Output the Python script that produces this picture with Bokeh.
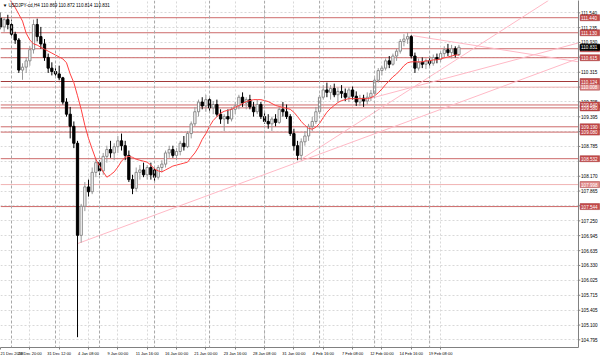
from bokeh.plotting import figure
from bokeh.models import Range1d, FixedTicker, Span, Label, ColumnDataSource
from bokeh.embed import file_html
from bokeh.resources import INLINE
from bokeh.core.properties import value

# ---------------- data (USDJPY-cd, 8-hour bars) ----------------
opens = [111.43,111.25,111.40,111.30,111.10,110.98,110.36,110.42,110.55,110.78,
         111.30,111.05,110.90,110.62,110.40,110.33,110.28,110.20,109.70,109.45,
         109.20,108.85,106.95,107.55,107.95,107.85,108.25,108.45,108.28,108.58,
         108.72,108.65,108.78,108.90,108.80,108.60,108.10,107.92,108.25,108.30,
         108.20,108.35,108.30,108.15,108.35,108.42,108.65,108.72,108.60,108.68,
         108.85,108.78,109.05,109.25,109.50,109.70,109.62,109.75,109.58,109.65,
         109.45,109.35,109.40,109.35,109.55,109.62,109.80,109.68,109.75,109.60,
         109.50,109.65,109.40,109.30,109.25,109.35,109.28,109.55,109.50,109.40,
         109.05,108.80,108.60,108.88,109.00,109.20,109.30,109.50,109.80,109.95,
         109.90,109.98,109.85,109.92,109.88,109.80,109.95,109.82,109.70,109.78,
         109.72,109.80,109.88,110.15,110.35,110.40,110.55,110.48,110.65,110.75,
         110.95,111.00,111.05,110.65,110.40,110.52,110.48,110.55,110.50,110.62,
         110.58,110.70,110.78,110.72,110.80,110.68]
highs = [111.55,111.45,111.50,111.40,111.15,111.02,110.50,110.62,110.85,111.40,
         111.42,111.25,111.00,110.70,110.52,110.45,110.45,110.22,109.78,109.60,
         109.30,108.90,107.60,108.05,108.10,108.35,108.55,108.50,108.65,108.80,
         108.90,108.85,109.00,109.05,108.90,108.70,108.20,108.35,108.40,108.45,
         108.40,108.45,108.35,108.40,108.50,108.70,108.80,108.80,108.75,108.90,
         109.00,109.10,109.30,109.60,109.75,109.80,109.85,109.80,109.72,109.75,
         109.55,109.45,109.55,109.60,109.70,109.85,109.90,109.80,109.85,109.70,
         109.75,109.70,109.50,109.45,109.40,109.45,109.60,109.70,109.65,109.45,
         109.15,108.90,108.95,109.10,109.25,109.40,109.60,109.85,110.05,110.10,
         110.05,110.08,110.00,110.05,109.98,110.00,110.02,109.92,109.85,109.85,
         109.90,109.95,110.20,110.40,110.45,110.60,110.65,110.70,110.80,111.00,
         111.10,111.13,111.08,110.72,110.60,110.62,110.60,110.65,110.68,110.70,
         110.75,110.85,110.90,110.88,110.85,110.88]
lows = [111.20,111.15,111.20,111.05,110.90,110.30,110.16,110.30,110.45,110.70,
        110.95,110.80,110.55,110.30,110.25,110.20,110.15,109.65,109.40,108.95,
        108.75,104.85,106.80,107.45,107.75,107.80,108.15,108.20,108.20,108.45,
        108.55,108.50,108.65,108.70,108.50,108.05,107.80,107.85,108.10,108.15,
        108.10,108.10,108.05,108.10,108.25,108.35,108.55,108.55,108.50,108.60,
        108.70,108.75,108.95,109.20,109.40,109.55,109.50,109.50,109.45,109.40,
        109.25,109.10,109.25,109.30,109.45,109.55,109.60,109.55,109.55,109.40,
        109.45,109.35,109.25,109.15,109.10,109.20,109.25,109.40,109.35,109.00,
        108.70,108.50,108.50,108.80,108.90,109.10,109.25,109.45,109.75,109.80,
        109.75,109.80,109.70,109.78,109.72,109.70,109.75,109.62,109.62,109.60,
        109.65,109.72,109.85,110.10,110.25,110.35,110.40,110.45,110.55,110.70,
        110.85,110.90,110.60,110.30,110.35,110.40,110.38,110.45,110.45,110.50,
        110.52,110.62,110.65,110.60,110.62,110.65]
closes = [111.25,111.40,111.30,111.10,110.98,110.36,110.42,110.55,110.78,111.30,
          111.05,110.90,110.62,110.40,110.33,110.28,110.20,109.70,109.45,109.20,
          108.85,106.95,107.55,107.95,107.85,108.25,108.45,108.28,108.58,108.72,
          108.65,108.78,108.90,108.80,108.60,108.10,107.92,108.25,108.30,108.20,
          108.35,108.20,108.15,108.35,108.42,108.65,108.72,108.60,108.68,108.85,
          108.78,109.05,109.25,109.50,109.70,109.62,109.75,109.58,109.65,109.45,
          109.35,109.40,109.35,109.55,109.62,109.80,109.68,109.75,109.60,109.50,
          109.65,109.40,109.30,109.25,109.35,109.28,109.55,109.50,109.40,109.05,
          108.80,108.60,108.88,109.00,109.20,109.30,109.50,109.80,109.95,109.90,
          109.98,109.85,109.92,109.88,109.80,109.95,109.82,109.70,109.78,109.72,
          109.80,109.88,110.15,110.35,110.40,110.55,110.48,110.65,110.75,110.95,
          111.00,111.05,110.65,110.40,110.52,110.48,110.55,110.50,110.62,110.58,
          110.70,110.78,110.72,110.80,110.68,110.83]
# moving average as drawn on the chart
ma_line = [112.10,112.00,111.86,111.76,111.65,111.51,111.37,111.12,110.98,110.90,
           110.875,110.83,110.79,110.75,110.71,110.67,110.63,110.59,110.51,110.28,
           110.10,109.83,109.55,109.22,108.95,108.73,108.52,108.38,108.26,108.15,
           108.20,108.26,108.36,108.48,108.56,108.58,108.56,108.52,108.50,108.48,
           108.46,108.40,108.32,108.28,108.26,108.30,108.34,108.38,108.40,108.42,
           108.44,108.46,108.56,108.65,108.77,108.93,109.05,109.20,109.32,109.40,
           109.47,109.51,109.53,109.55,109.59,109.63,109.67,109.71,109.73,109.75,
           109.75,109.75,109.73,109.71,109.67,109.63,109.61,109.59,109.57,109.55,
           109.49,109.40,109.30,109.22,109.16,109.14,109.18,109.26,109.38,109.49,
           109.57,109.63,109.69,109.73,109.75,109.77,109.77,109.77,109.77,109.77,
           109.77,109.79,109.83,109.89,109.97,110.06,110.14,110.22,110.28,110.36,
           110.45,110.51,110.53,110.53,110.53,110.53,110.55,110.55,110.57,110.57,
           110.59,110.61,110.63,110.65,110.67,110.67]

# horizontal levels (price tags on the right)
levels = [111.440, 111.130, 110.800, 110.615, 110.124, 110.008,
          109.640, 109.580, 109.190, 109.080, 108.532, 107.998, 107.544]
level_kind = ["n", "n", "n", "n", "dark", "light",
              "n", "n", "n", "n", "n", "light", "n"]
current_price = 110.831

# trend lines: (bar, price) -> (bar, price)
trend_x0 = [21.0, 82.0, 99.6, 112.4]
trend_y0 = [106.78, 108.52, 109.75, 111.07]
trend_x1 = [157.6, 149.4, 157.6, 157.6]
trend_y1 = [110.60, 111.795, 110.92, 110.53]

# first bar of each trading week
week_starts = [3, 15, 27, 42, 57, 72, 87, 102, 117]

x_tick_labels = ["21 Dec 2018", "26 Dec 20:00", "31 Dec 12:00", "4 Jan 08:00",
                 "9 Jan 00:00", "11 Jan 16:00", "16 Jan 00:00", "21 Jan 00:00",
                 "23 Jan 16:00", "28 Jan 08:00", "31 Jan 00:00", "4 Feb 16:00",
                 "7 Feb 08:00", "12 Feb 00:00", "14 Feb 16:00", "19 Feb 08:00"]
y_tick_labels = ["104.795", "105.100", "105.405", "105.715", "106.025", "106.330",
                 "106.635", "106.945", "107.250", "107.560", "107.865", "108.170",
                 "108.480", "108.785", "109.090", "109.395", "109.705", "110.010",
                 "110.315", "110.625", "110.930", "111.235", "111.540"]
y_hidden = ["107.560", "108.480", "109.090", "110.010", "110.625"]

header = "USDJPY-cd,H4  110.869 110.872 110.814 110.831"

# ---------------- figure ----------------
FONT = "Liberation Sans"
n = len(closes)
xs = list(range(n))
X_END = 157.6      # right edge of the price pane (bar units)
X_MAX = 163.6      # right edge of the price scale strip

p = figure(width=600, height=358, x_range=Range1d(0, X_MAX), y_range=Range1d(104.637, 111.795),
           toolbar_location=None, output_backend="svg", y_axis_location=None,
           min_border_left=0, min_border_top=0, min_border_right=0, min_border_bottom=0)
p.background_fill_color = "white"
p.border_fill_color = "white"
p.outline_line_color = None

# time axis
xt = [8 * k for k in range(len(x_tick_labels))]
p.xaxis.ticker = FixedTicker(ticks=xt)
p.xaxis.major_label_overrides = {t: s for t, s in zip(xt, x_tick_labels)}
p.xaxis.major_label_text_align = "left"
p.xaxis.major_label_text_font_size = "4px"
p.xaxis.major_label_text_font = FONT
p.xaxis.major_label_text_color = "#000000"
p.xaxis.axis_line_color = "#808080"
p.xaxis.major_tick_line_color = "#808080"
p.xaxis.major_tick_in = 0
p.xaxis.major_tick_out = 2
p.xaxis.minor_tick_line_color = None
p.xaxis.major_label_standoff = 1
p.xaxis.bounds = (0, X_END)

# grids
yt = [float(s) for s in y_tick_labels]
p.xgrid.ticker = FixedTicker(ticks=xt)
p.ygrid.ticker = FixedTicker(ticks=yt)
for g in (p.xgrid[0], p.ygrid[0]):
    g.grid_line_color = "#d9d9d9"
    g.grid_line_dash = "2 2"

# week separators
for w in week_starts:
    p.add_layout(Span(location=w, dimension="height", line_color="#a8a8a8",
                      line_dash="3 2", line_width=1))

# horizontal levels
col_map = {"n": "#cd6b6b", "dark": "#a33a3a", "light": "#f0b4b4"}
p.segment(x0=[0] * len(levels), y0=levels, x1=[X_END] * len(levels), y1=levels,
          line_color=[col_map[k] for k in level_kind], line_width=1)

# trend lines
p.segment(x0=trend_x0, y0=trend_y0, x1=trend_x1, y1=trend_y1, line_color="#ffb9c6", line_width=1)

# candles
bull = [c >= o for o, c in zip(opens, closes)]
def pick(arr, flag):
    return [v for v, b in zip(arr, bull) if b == flag]
src_up = ColumnDataSource(dict(x=pick(xs, True), o=pick(opens, True), c=pick(closes, True),
                               h=pick(highs, True), l=pick(lows, True)))
src_dn = ColumnDataSource(dict(x=pick(xs, False), o=pick(opens, False), c=pick(closes, False),
                               h=pick(highs, False), l=pick(lows, False)))
p.segment(x0="x", y0="l", x1="x", y1="h", source=src_up, line_color="#9a9a9a", line_width=1)
p.segment(x0="x", y0="l", x1="x", y1="h", source=src_dn, line_color="#000000", line_width=1)
p.vbar(x="x", bottom="o", top="c", width=0.62, source=src_up,
       fill_color="white", line_color="#8a8a8a", line_width=1)
p.vbar(x="x", bottom="c", top="o", width=0.62, source=src_dn,
       fill_color="black", line_color="black", line_width=1)

# moving average
p.line(xs, ma_line, line_color="#ff4040", line_width=1)

# ---- price scale strip on the right ----
p.quad(left=[X_END], right=[X_MAX + 1], bottom=[104.0], top=[112.5],
       fill_color="white", line_color=None)
p.segment(x0=[X_END], y0=[104.0], x1=[X_END], y1=[112.5], line_color="#808080", line_width=1)
shown = [s for s in y_tick_labels if s not in y_hidden]
shown_y = [float(s) for s in shown]
p.segment(x0=[X_END] * len(yt), y0=yt, x1=[X_END + 0.5] * len(yt), y1=yt,
          line_color="#808080", line_width=1)
p.text(x=[X_END + 0.7] * len(shown), y=shown_y, text=shown, text_font=value(FONT),
       text_font_size="4.6px", text_color="#000000", text_baseline="middle", text_align="left")

tag_fill = ["#c44a4a" if k != "light" else "#e08a8a" for k in level_kind]
tag_x = X_END + 0.45 + 2.65
p.rect(x=[tag_x] * len(levels), y=levels, width=5.3, height=6, height_units="screen",
       fill_color=tag_fill, line_color="#a03030", line_width=0.5)
p.text(x=[X_END + 0.7] * len(levels), y=levels, text=[f"{v:.3f}" for v in levels],
       text_font=value(FONT), text_font_size="4.6px", text_color="white",
       text_baseline="middle", text_align="left")
p.rect(x=[tag_x], y=[current_price], width=5.3, height=6, height_units="screen",
       fill_color="#000000", line_color="#000000")
p.text(x=[X_END + 0.7], y=[current_price], text=[f"{current_price:.3f}"],
       text_font=value(FONT), text_font_size="4.6px", text_color="white",
       text_baseline="middle", text_align="left")

# header
p.add_layout(Label(x=0.6, y=111.70, text="\u25bc " + header, text_font=FONT, text_font_size="4.6px",
                   text_color="#000000", text_baseline="middle"))

open("out.html", "w").write(file_html(p, INLINE))
